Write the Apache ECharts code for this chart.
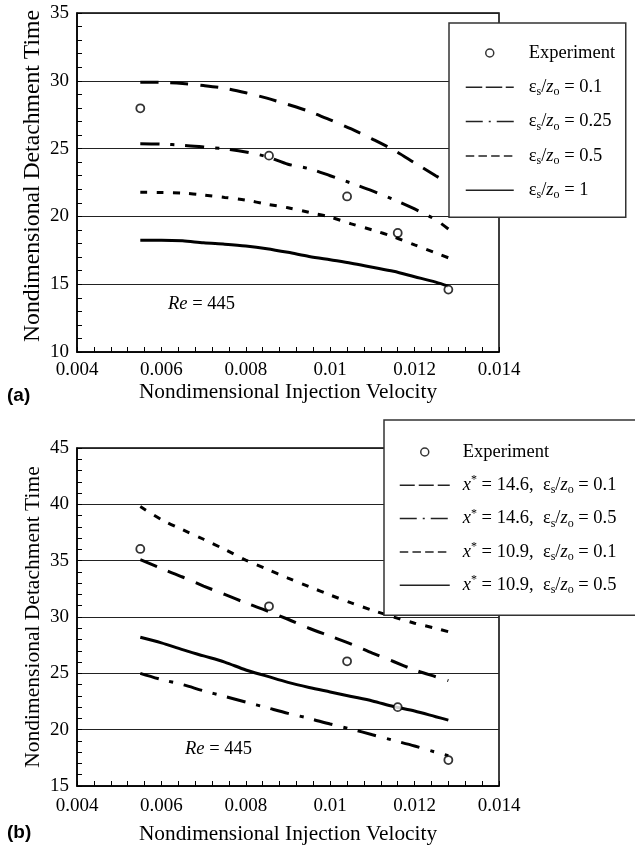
<!DOCTYPE html>
<html><head><meta charset="utf-8">
<script src="https://cdn.jsdelivr.net/npm/echarts@6/dist/echarts.min.js"></script>
<style>html,body{margin:0;padding:0;background:#fff}#c{width:635px;height:848px}</style>
</head><body><div id="c"></div>
<script>
// ---------- data ----------
const xVelocity = [0.0055,0.006,0.0065,0.007,0.0075,0.008,0.0085,0.009,0.0095,0.01,0.0105,0.011,0.0115,0.012,0.0125,0.0128];
// panel (a)
const a_eps01  = [29.9,29.88,29.8,29.65,29.45,29.12,28.72,28.25,27.75,27.12,26.45,25.7,24.9,23.95,23.0,22.45];
const a_eps025 = [25.36,25.33,25.25,25.12,24.98,24.75,24.4,23.85,23.52,23.0,22.45,21.88,21.25,20.55,19.75,19.07];
const a_eps05  = [21.78,21.76,21.72,21.58,21.4,21.2,20.9,20.64,20.3,19.95,19.45,19.0,18.5,17.9,17.3,16.95];
const a_eps1   = [18.25,18.25,18.2,18.05,17.95,17.82,17.62,17.35,17.05,16.8,16.55,16.25,15.95,15.55,15.15,14.85];
// panel (b)
const b_x146_e01 = [35.1,34.3,33.55,32.75,32.0,31.25,30.55,29.8,29.0,28.3,27.6,26.8,26.05,25.3,24.7,24.35];
const b_x146_e05 = [25.0,24.45,24.0,23.45,22.95,22.45,21.95,21.45,21.0,20.5,20.05,19.55,19.05,18.55,18.0,17.7];
const b_x109_e01 = [39.8,38.65,37.75,36.9,36.0,35.05,34.25,33.45,32.7,31.95,31.25,30.6,30.0,29.45,29.0,28.7];
const b_x109_e05 = [28.2,27.7,27.1,26.55,26.0,25.3,24.75,24.2,23.75,23.35,22.95,22.55,22.05,21.65,21.15,20.85];
// experiments
const expVelocity = [0.0055,0.00855,0.0104,0.0116,0.0128];
const a_experiment = [27.97,24.48,21.47,18.78,14.6];
const b_experiment = [36.04,30.95,26.07,22.0,17.3];
// ticks
const xTickValues = [0.004,0.006,0.008,0.01,0.012,0.014];
const xTickLabels = ['0.004','0.006','0.008','0.01','0.012','0.014'];
const aYTickValues = [10,15,20,25,30,35];
const aYTickLabels = ['10','15','20','25','30','35'];
const bYTickValues = [15,20,25,30,35,40,45];
const bYTickLabels = ['15','20','25','30','35','40','45'];
// legend names
const aNames = ['Experiment','a: es/zo = 0.1','a: es/zo = 0.25','a: es/zo = 0.5','a: es/zo = 1'];
const aLabels = ['Experiment','ε{sub|s}/{iz|z}{sub|o} = 0.1','ε{sub|s}/{iz|z}{sub|o} = 0.25','ε{sub|s}/{iz|z}{sub|o} = 0.5','ε{sub|s}/{iz|z}{sub|o} = 1'];
const bNames = ['Experiment','b: x=14.6, es/zo=0.1','b: x=14.6, es/zo=0.5','b: x=10.9, es/zo=0.1','b: x=10.9, es/zo=0.5'];
const bLabels = ['Experiment',
 '{it|x}{sup|*} = 14.6,  ε{sub|s}/{iz|z}{sub|o} = 0.1',
 '{it|x}{sup|*} = 14.6,  ε{sub|s}/{iz|z}{sub|o} = 0.5',
 '{it|x}{sup|*} = 10.9,  ε{sub|s}/{iz|z}{sub|o} = 0.1',
 '{it|x}{sup|*} = 10.9,  ε{sub|s}/{iz|z}{sub|o} = 0.5'];

// ---------- styles ----------
const SERIF = 'Liberation Serif';
const LONG = [18,12], DASHDOT = [19,11,4,11], SHORT = [7,9.3];
const pair = (xs, ys) => xs.map((x,i)=>[x, ys[i]]);
const lookup = (vals, labels) => v => { const i = vals.findIndex(t => Math.abs(t - v) < 1e-9); return i >= 0 ? labels[i] : ''; };

function xAxis(gi, gap){
  return {type:'value', gridIndex:gi, min:0.004, max:0.014, interval:0.002,
    name:'Nondimensional Injection Velocity', nameLocation:'middle', nameGap:gap, nameMoveOverlap:false,
    nameTextStyle:{fontFamily:SERIF, fontSize:21.3, color:'#000'},
    axisLine:{show:true, onZero:false, lineStyle:{color:'#000', width:1.5}},
    axisTick:{show:true, inside:true, length:5, lineStyle:{color:'#000', width:1}},
    minorTick:{show:true, splitNumber:5, length:5, lineStyle:{color:'#000', width:1}},
    splitLine:{show:false},
    axisLabel:{fontFamily:SERIF, fontSize:19, color:'#000', margin:gi===0?9:11, formatter:lookup(xTickValues,xTickLabels)}};
}
function yAxis(gi, min, max, vals, labels, fs, gap, pad){
  return {type:'value', gridIndex:gi, min:min, max:max, interval:5,
    name:'Nondimensional Detachment Time', nameLocation:'middle', nameGap:gap, nameMoveOverlap:false,
    nameTextStyle:{fontFamily:SERIF, fontSize:fs, color:'#000', padding:pad},
    axisLine:{show:true, onZero:false, lineStyle:{color:'#000', width:1.5}},
    axisTick:{show:true, inside:true, length:5, lineStyle:{color:'#000', width:1}},
    minorTick:{show:true, splitNumber:5, length:5, lineStyle:{color:'#000', width:1}},
    splitLine:{show:true, lineStyle:{color:'#222', width:1}},
    axisLabel:{fontFamily:SERIF, fontSize:19, color:'#000', margin:8, formatter:lookup(vals,labels)}};
}
function line(name, gi, ys, dash){
  return {type:'line', name:name, xAxisIndex:gi, yAxisIndex:gi, data:pair(xVelocity, ys),
    symbol:'none', smooth:0.3, z:3, color:'#000',
    lineStyle:{color:'#000', width:3, type:dash}};
}
function scatter(gi, ys){
  return {type:'scatter', name:'Experiment', xAxisIndex:gi, yAxisIndex:gi, data:pair(expVelocity, ys),
    symbol:'circle', symbolSize:8, z:5,
    itemStyle:{color:'#fff', borderColor:'#000', borderWidth:1.8}};
}
const rich = {
  sub:{fontFamily:SERIF, fontSize:12, lineHeight:10, verticalAlign:'bottom', color:'#000'},
  iz:{fontFamily:SERIF, fontSize:18.5, fontStyle:'italic', lineHeight:22, color:'#000'},
  it:{fontFamily:SERIF, fontSize:18.5, fontStyle:'italic', lineHeight:22, color:'#000'},
  sup:{fontFamily:SERIF, fontSize:12, lineHeight:12, verticalAlign:'top', color:'#000'}
};
const legendLine = {color:'#222', width:1.5};
const hiddenSymbol = {color:'rgba(0,0,0,0)', borderColor:'rgba(0,0,0,0)', borderWidth:0, opacity:0};
function legendData(names, dashes){
  return names.map((n,i)=> i===0
    ? {name:n, itemStyle:{color:'#fff', borderColor:'#000', borderWidth:1.5}}
    : {name:n, itemStyle:hiddenSymbol, lineStyle:Object.assign({}, legendLine, {type:dashes[i]})});
}

const chart = echarts.init(document.getElementById('c'), null, {renderer:'canvas'});
chart.setOption({
  animation:false,
  backgroundColor:'#fff',
  grid:[
    {left:77, top:13, width:422, height:339, show:true, borderColor:'#000', borderWidth:1.5, backgroundColor:'transparent'},
    {left:77, top:448, width:422, height:338, show:true, borderColor:'#000', borderWidth:1.5, backgroundColor:'transparent'}
  ],
  xAxis:[xAxis(0, 29.5), xAxis(1, 37.5)],
  yAxis:[yAxis(0, 10, 35, aYTickValues, aYTickLabels, 23.7, 32, [0,0,0,13]),
         yAxis(1, 15, 45, bYTickValues, bYTickLabels, 21.5, 33, 0)],
  legend:[
    {orient:'vertical', left:449, top:23, padding:[19,2,16,16], itemWidth:48, itemHeight:8, itemGap:12.3,
     backgroundColor:'#fff', borderColor:'#333', borderWidth:1.5, selectedMode:false, z:10,
     textStyle:{fontFamily:SERIF, fontSize:18.5, color:'#000', lineHeight:22, padding:[0,0,0,10], width:95, rich:rich},
     formatter: n => aLabels[aNames.indexOf(n)],
     data: legendData(aNames, [null, [16.5,3.5], [17,6,2,6], [8.5,4.2], 'solid'])},
    {orient:'vertical', left:384, top:420, padding:[21,0,19,15], itemWidth:50, itemHeight:8, itemGap:11.3,
     backgroundColor:'#fff', borderColor:'#333', borderWidth:1.5, selectedMode:false, z:10,
     textStyle:{fontFamily:SERIF, fontSize:18.5, color:'#000', lineHeight:22, padding:[0,0,0,8], width:190, rich:rich},
     formatter: n => bLabels[bNames.indexOf(n)],
     data: legendData(bNames, [null, [15,4], [17,6,2,6], [8.5,4.2], 'solid'])}
  ],
  graphic:[
    {type:'text', left:7, top:386, style:{text:'(a)', fontFamily:'Liberation Sans', fontWeight:'bold', fontSize:19, fill:'#000'}},
    {type:'text', left:7, top:823, style:{text:'(b)', fontFamily:'Liberation Sans', fontWeight:'bold', fontSize:19, fill:'#000'}},
    {type:'text', left:168, top:295, style:{text:'{it|Re} = 445', fontFamily:SERIF, fontSize:18.5, fill:'#000', rich:rich}},
    {type:'text', left:185, top:740, style:{text:'{it|Re} = 445', fontFamily:SERIF, fontSize:18.5, fill:'#000', rich:rich}}
  ],
  series:[
    scatter(0, a_experiment),
    line(aNames[1], 0, a_eps01, LONG),
    line(aNames[2], 0, a_eps025, DASHDOT),
    line(aNames[3], 0, a_eps05, SHORT),
    line(aNames[4], 0, a_eps1, 'solid'),
    scatter(1, b_experiment),
    line(bNames[1], 1, b_x146_e01, LONG),
    line(bNames[2], 1, b_x146_e05, DASHDOT),
    line(bNames[3], 1, b_x109_e01, SHORT),
    line(bNames[4], 1, b_x109_e05, 'solid')
  ]
});
</script></body></html>
